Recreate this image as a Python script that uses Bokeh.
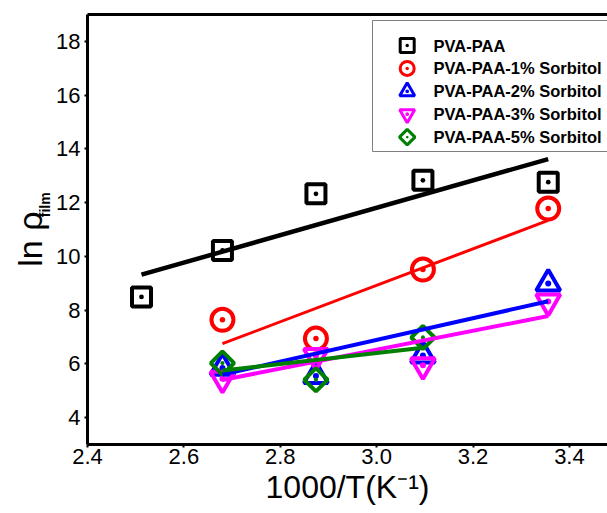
import math
from bokeh.plotting import figure
from bokeh.layouts import row
from bokeh.models import Range1d, LinearAxis, FixedTicker, PrintfTickFormatter
from bokeh.embed import file_html
from bokeh.resources import INLINE
from bokeh.core.properties import value

# ---------------- data ----------------
inv_T = [2.512, 2.680, 2.874, 3.096, 3.356]          # 1000/T (K^-1)
pva_paa = [8.49, 10.22, 12.33, 12.83, 12.76]          # all five temperatures
sorb1 = [7.64, 6.94, 9.51, 11.78]                     # inv_T[1:]
sorb2 = [5.85, 5.55, 6.31, 8.99]                      # inv_T[1:]
sorb3 = [5.45, 6.30, 5.95, 8.32]                      # inv_T[1:]
sorb5 = [6.03, 5.41, 6.98]                            # inv_T[1:4]

fit_pva_x = [2.512, 3.356]; fit_pva_y = [9.32, 13.62]
fit_s1_x = [2.680, 3.356];  fit_s1_y = [6.75, 11.34]
fit_s2_x = [2.680, 3.356];  fit_s2_y = [5.60, 8.33]
fit_s3_x = [2.680, 3.356];  fit_s3_y = [5.40, 7.78]
fit_s5_x = [2.680, 3.096];  fit_s5_y = [5.75, 6.60]

series_names = ["PVA-PAA", "PVA-PAA-1% Sorbitol", "PVA-PAA-2% Sorbitol",
                "PVA-PAA-3% Sorbitol", "PVA-PAA-5% Sorbitol"]
x_ticks = [2.4, 2.6, 2.8, 3.0, 3.2, 3.4]
y_ticks = [4, 6, 8, 10, 12, 14, 16, 18]
x_title = "1000/T(K⁻¹)"
y_title_main = "ln ρ"
y_title_sub = "film"

# ---------------- layout ----------------
FONT = "Liberation Sans"
X0, X1 = 2.4, 3.479
Y0, Y1 = 3.0, 19.0
FW, FH = 520, 430          # frame size in px
LEFT_W = 52                # width of the strip holding the y title
TOTAL_W, TOTAL_H = 607, 513

p = figure(width=TOTAL_W - LEFT_W, height=TOTAL_H,
           x_range=Range1d(X0, X1), y_range=Range1d(Y0, Y1),
           output_backend="svg", toolbar_location=None,
           min_border_left=87 - LEFT_W, min_border_right=0,
           min_border_top=14, min_border_bottom=TOTAL_H - 14 - FH)
p.outline_line_color = None
p.grid.visible = False
p.background_fill_color = "white"
p.border_fill_color = "white"

for ax in (p.xaxis[0], p.yaxis[0]):
    ax.axis_line_width = 3
    ax.axis_line_color = "black"
    ax.major_tick_line_width = 2
    ax.major_tick_line_color = "black"
    ax.major_tick_out = 3
    ax.major_tick_in = 0
    ax.minor_tick_line_color = None
    ax.major_label_text_font = FONT
    ax.major_label_text_font_size = "22px"
    ax.major_label_text_color = "black"

xa = p.xaxis[0]
xa.ticker = FixedTicker(ticks=x_ticks)
xa.formatter = PrintfTickFormatter(format="%.1f")
xa.major_label_standoff = 1
xa.axis_label = x_title
xa.axis_label_text_font = FONT
xa.axis_label_text_font_size = "32px"
xa.axis_label_text_font_style = "normal"
xa.axis_label_text_color = "black"
xa.axis_label_standoff = 2

ya = p.yaxis[0]
ya.ticker = FixedTicker(ticks=y_ticks)
ya.major_label_standoff = 4
ya.axis_label = None

top = LinearAxis(ticker=FixedTicker(ticks=[]), axis_line_width=3, axis_line_color="black",
                 major_tick_line_color=None, minor_tick_line_color=None,
                 major_label_text_font_size="0px", major_label_standoff=0,
                 axis_label_standoff=0)
p.add_layout(top, "above")

# ---------------- styles ----------------
BLACK, RED, BLUE, MAGENTA, GREEN = "#000000", "#FF0000", "#0000FF", "#FF00FF", "#008000"

# data markers
p.scatter(inv_T, pva_paa, marker="square_dot", size=19, line_width=4,
          line_color=BLACK, fill_color=None)
p.scatter(inv_T[1:], sorb1, marker="circle_dot", size=22, line_width=4,
          line_color=RED, fill_color=None)
p.scatter(inv_T[1:], sorb2, marker="triangle_dot", size=24, line_width=4,
          line_color=BLUE, fill_color=None)
p.scatter(inv_T[1:], sorb3, marker="triangle_dot", size=24, angle=math.pi, line_width=4,
          line_color=MAGENTA, fill_color=None)
p.scatter(inv_T[1:4], sorb5, marker="square_dot", size=16.5, angle=math.pi/4, line_width=4,
          line_color=GREEN, fill_color=None)

# linear fits
p.line(fit_pva_x, fit_pva_y, line_color=BLACK, line_width=4.5)
p.line(fit_s1_x, fit_s1_y, line_color=RED, line_width=3)
p.line(fit_s2_x, fit_s2_y, line_color=BLUE, line_width=4)
p.line(fit_s3_x, fit_s3_y, line_color=MAGENTA, line_width=4)
p.line(fit_s5_x, fit_s5_y, line_color=GREEN, line_width=4)

# ---------------- legend (placed in frame pixels) ----------------
def fx(px):
    return X0 + px * (X1 - X0) / FW

def fy(py):
    return Y1 - py * (Y1 - Y0) / FH

box_l, box_t, box_b = 285, 6, 137
p.quad(left=[fx(box_l)], right=[X1 + 0.2], top=[fy(box_t)], bottom=[fy(box_b)],
       fill_color="white", line_color="#7f7f7f", line_width=1)

row_y = [fy(31 + 22.9 * i) for i in range(len(series_names))]
mk_x = fx(319.7)
txt_x = fx(346)
leg_markers = ["square_dot", "circle_dot", "triangle_dot", "triangle_dot", "square_dot"]
leg_colors = [BLACK, RED, BLUE, MAGENTA, GREEN]
leg_sizes = [14, 14, 15, 15, 11]
leg_angles = [0, 0, 0, math.pi, math.pi/4]
for i in range(len(series_names)):
    p.scatter([mk_x], [row_y[i]], marker=leg_markers[i], size=leg_sizes[i],
              angle=leg_angles[i], line_width=3, line_color=leg_colors[i], fill_color=None)
p.text(x=[txt_x] * len(series_names), y=row_y, text=series_names,
       text_font=value(FONT), text_font_style="bold", text_font_size="16.5px",
       text_baseline="middle", text_align="left", text_color="black")

# ---------------- y title strip (pixel coordinates, origin bottom-left) ----------------
q = figure(width=LEFT_W, height=TOTAL_H, x_range=Range1d(0, LEFT_W),
           y_range=Range1d(0, TOTAL_H), output_backend="svg", toolbar_location=None,
           x_axis_type=None, y_axis_type=None, min_border=0)
q.outline_line_color = None
q.grid.visible = False
q.background_fill_color = "white"
q.border_fill_color = "white"
q.text(x=[29], y=[TOTAL_H - 268], text=[y_title_main], angle=math.pi/2,
       text_font=value(FONT), text_font_size="34px",
       text_align="center", text_baseline="middle", text_color="black")
q.text(x=[44], y=[TOTAL_H - 227], text=[y_title_sub], angle=math.pi/2,
       text_font=value(FONT), text_font_size="14px", text_font_style="bold",
       text_align="center", text_baseline="middle", text_color="black")

layout = row(q, p, spacing=0)
open("out.html", "w").write(file_html(layout, INLINE))
